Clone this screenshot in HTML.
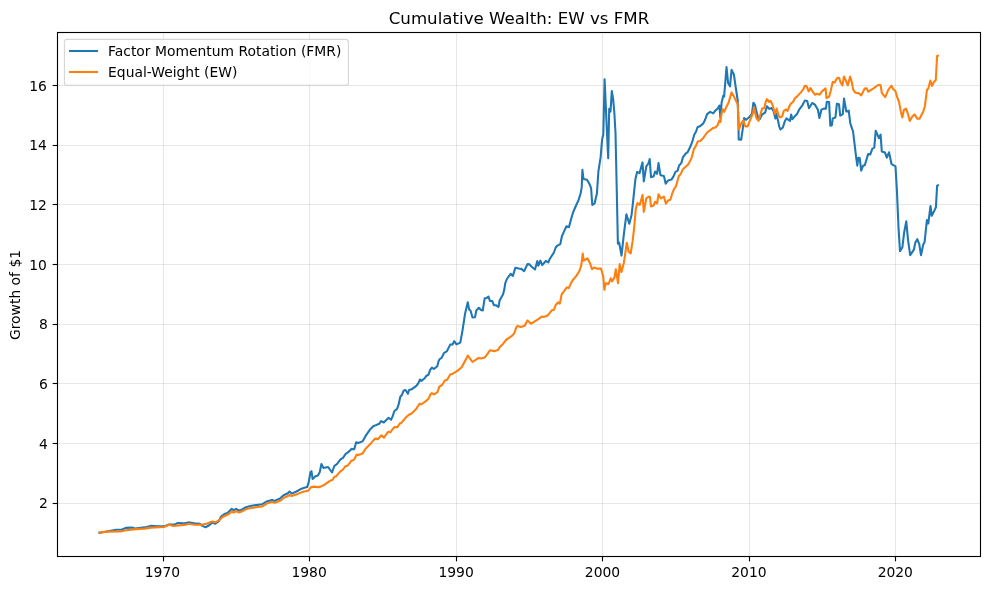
<!DOCTYPE html>
<html><head><meta charset="utf-8"><title>Cumulative Wealth: EW vs FMR</title>
<style>
html,body{margin:0;padding:0;background:#fff;}
body{width:989px;height:590px;overflow:hidden;}
svg{display:block;}
text{font-family:"DejaVu Sans","Liberation Sans",sans-serif;fill:#000;}
</style></head><body>
<svg width="989" height="590" viewBox="0 0 989 590">
<rect width="989" height="590" fill="#fff"/>

<g stroke="#b0b0b0" stroke-opacity="0.3" stroke-width="1.11" fill="none">
<line x1="163.5" y1="32.5" x2="163.5" y2="556.5"/>
<line x1="309.5" y1="32.5" x2="309.5" y2="556.5"/>
<line x1="456.5" y1="32.5" x2="456.5" y2="556.5"/>
<line x1="602.5" y1="32.5" x2="602.5" y2="556.5"/>
<line x1="749.5" y1="32.5" x2="749.5" y2="556.5"/>
<line x1="895.5" y1="32.5" x2="895.5" y2="556.5"/>
<line x1="57.5" y1="503.5" x2="980.5" y2="503.5"/>
<line x1="57.5" y1="443.5" x2="980.5" y2="443.5"/>
<line x1="57.5" y1="383.5" x2="980.5" y2="383.5"/>
<line x1="57.5" y1="324.5" x2="980.5" y2="324.5"/>
<line x1="57.5" y1="264.5" x2="980.5" y2="264.5"/>
<line x1="57.5" y1="204.5" x2="980.5" y2="204.5"/>
<line x1="57.5" y1="145.5" x2="980.5" y2="145.5"/>
<line x1="57.5" y1="85.5" x2="980.5" y2="85.5"/>
</g>
<path d="M99.5 532.7 L105.8 531.8 L116.1 529.8 L121.5 529.8 L125.8 527.9 L131.9 527.6 L134.9 528.6 L144.6 527.4 L150.7 525.9 L158.0 526.4 L164.0 526.4 L168.9 524.6 L175.0 524.6 L177.4 523.0 L183.4 523.4 L188.3 522.4 L194.4 523.4 L199.8 523.7 L202.4 525.9 L205.5 527.2 L209.2 525.3 L212.2 522.5 L215.3 523.7 L218.9 521.1 L220.8 516.8 L224.4 514.1 L227.5 513.1 L231.7 508.8 L233.6 510.1 L236.0 508.8 L239.1 510.7 L242.1 509.5 L245.2 507.6 L251.3 505.8 L262.3 504.2 L266.5 501.5 L272.0 500.0 L274.5 500.9 L280.0 498.5 L283.6 495.2 L287.9 493.2 L289.5 491.5 L291.8 493.6 L296.5 491.5 L300.7 489.1 L304.4 487.8 L307.2 487.1 L308.7 482.0 L310.5 472.2 L311.5 471.2 L312.6 478.9 L315.5 476.2 L317.9 475.6 L319.8 471.9 L321.4 464.0 L323.4 467.9 L328.1 467.0 L332.0 472.5 L334.4 465.8 L336.9 464.2 L340.5 459.3 L343.0 457.9 L345.4 454.2 L347.9 452.4 L351.5 448.9 L354.2 449.3 L356.2 442.3 L358.2 443.0 L362.5 441.4 L365.6 435.9 L369.8 429.8 L373.5 426.1 L375.0 425.6 L379.1 423.8 L381.1 421.1 L383.8 422.5 L388.6 417.8 L391.0 419.8 L392.6 416.4 L394.4 411.0 L397.1 408.9 L398.7 404.2 L400.3 396.7 L402.1 394.7 L403.7 390.4 L405.5 390.0 L407.9 393.8 L409.1 390.0 L411.6 389.3 L416.3 385.9 L418.4 383.2 L420.0 379.5 L421.3 380.9 L424.5 378.5 L426.5 375.7 L428.5 374.7 L430.3 369.6 L431.9 367.6 L433.9 369.0 L437.3 366.3 L438.7 360.8 L440.0 358.8 L441.6 357.9 L444.1 352.8 L446.8 351.4 L450.2 344.6 L452.5 344.4 L454.2 341.2 L456.5 344.4 L460.3 342.6 L462.4 331.1 L465.1 313.5 L467.8 302.3 L469.1 309.4 L470.5 310.5 L472.5 317.5 L475.0 317.3 L476.3 310.5 L478.9 307.8 L480.7 309.7 L482.7 310.5 L484.7 298.3 L486.8 297.9 L488.5 296.5 L489.9 301.0 L492.2 301.0 L493.9 305.1 L496.2 305.3 L498.5 307.0 L499.6 300.6 L501.4 297.2 L503.1 294.2 L504.4 289.1 L505.2 283.4 L506.9 279.0 L510.6 273.9 L512.9 275.9 L515.3 267.8 L518.7 268.5 L521.4 268.9 L524.1 271.2 L527.5 264.1 L529.6 264.4 L531.6 266.8 L535.0 269.5 L537.3 261.0 L538.4 265.7 L540.4 260.6 L542.2 265.1 L545.8 261.0 L548.3 262.4 L549.9 258.7 L553.9 252.5 L555.7 247.5 L557.3 245.7 L560.3 244.1 L561.9 236.2 L563.4 232.9 L566.4 226.3 L569.0 227.1 L571.0 219.5 L573.0 212.6 L575.6 206.5 L578.6 199.9 L580.6 193.5 L581.7 187.4 L582.4 169.9 L583.5 179.1 L587.0 179.8 L589.3 183.6 L591.1 188.2 L592.3 205.0 L594.6 203.4 L596.9 193.5 L598.4 171.4 L600.6 157.4 L602.1 139.6 L603.3 134.5 L604.6 79.2 L606.9 131.0 L608.2 158.2 L609.2 108.7 L610.5 111.6 L611.8 91.0 L613.1 98.9 L614.3 112.0 L615.5 132.8 L616.7 187.4 L617.9 243.7 L619.2 242.7 L621.5 255.6 L623.9 233.9 L626.4 214.4 L629.3 223.7 L631.5 215.3 L632.7 205.1 L635.4 179.3 L637.1 171.9 L639.5 173.2 L642.5 162.4 L643.8 181.4 L646.3 166.4 L648.3 163.7 L649.7 159.0 L651.0 177.3 L653.7 176.3 L655.1 171.5 L657.1 173.9 L658.5 163.1 L660.5 175.3 L663.9 175.9 L665.7 183.7 L668.2 180.4 L671.4 179.6 L673.4 176.6 L675.4 171.9 L677.5 170.9 L679.1 165.5 L681.3 163.1 L682.9 157.4 L685.6 153.6 L687.6 152.2 L690.3 146.8 L692.4 141.4 L694.2 134.8 L696.0 131.8 L697.5 127.2 L700.3 126.0 L703.3 123.4 L705.2 119.5 L707.1 114.2 L710.2 111.9 L713.2 113.4 L715.5 110.4 L717.8 108.5 L719.4 105.5 L720.4 118.0 L721.6 102.7 L723.2 95.9 L724.1 96.6 L725.5 79.8 L726.5 67.0 L728.1 82.9 L730.0 86.3 L731.6 69.9 L733.9 74.5 L735.4 85.2 L737.7 100.5 L738.4 121.1 L738.7 139.4 L741.2 139.7 L743.0 127.2 L744.1 118.0 L746.1 119.8 L749.1 117.3 L751.9 114.2 L753.4 102.7 L755.0 105.0 L756.2 110.3 L758.0 117.4 L759.7 119.2 L762.1 114.5 L765.1 112.7 L766.9 106.2 L769.2 108.9 L771.6 108.0 L773.7 111.5 L775.4 118.6 L776.4 113.9 L778.1 121.0 L779.3 126.9 L780.5 129.5 L782.9 127.5 L784.7 121.6 L786.4 118.4 L790.0 120.8 L791.2 114.5 L792.4 119.2 L794.7 116.3 L797.1 113.9 L799.1 109.7 L802.4 105.3 L804.8 100.6 L807.2 101.1 L809.0 108.2 L812.2 103.0 L814.9 104.6 L817.9 109.7 L819.4 118.0 L821.4 109.7 L823.8 108.6 L825.9 108.6 L826.8 101.8 L829.1 102.0 L830.3 125.8 L831.9 125.2 L832.7 118.4 L835.4 117.4 L836.9 103.8 L839.0 104.2 L840.2 115.7 L842.8 114.1 L844.0 98.5 L846.3 111.5 L848.7 110.6 L850.3 123.4 L852.3 129.3 L853.0 131.0 L854.4 142.6 L856.1 157.0 L857.3 165.6 L858.3 157.7 L859.7 158.1 L861.2 170.6 L863.1 165.6 L864.8 165.3 L868.1 154.1 L870.3 154.4 L872.4 148.6 L874.3 147.6 L875.7 130.7 L878.9 138.2 L880.6 134.6 L881.8 151.5 L885.0 152.6 L886.8 157.7 L889.0 152.3 L891.6 164.2 L895.5 166.3 L896.9 190.4 L898.6 229.4 L900.0 251.1 L902.4 247.2 L904.1 232.8 L906.3 221.3 L908.0 239.6 L910.2 255.2 L913.9 249.7 L915.3 242.6 L917.3 239.2 L919.3 244.3 L921.0 255.2 L923.2 244.7 L924.6 242.1 L926.9 220.1 L928.3 223.5 L930.5 206.0 L931.7 215.8 L933.9 211.6 L935.9 207.4 L937.1 185.7 L938.0 185.3" fill="none" stroke="#1f77b4" stroke-width="2.08" stroke-linejoin="round" stroke-linecap="square"/>
<path d="M99.5 532.5 L105.8 531.6 L120.3 531.5 L126.4 530.3 L136.1 529.1 L144.6 528.6 L150.7 527.6 L164.0 527.0 L168.9 524.8 L173.7 526.0 L185.9 524.6 L188.9 523.7 L194.4 524.8 L201.6 524.8 L207.3 523.5 L212.2 521.4 L215.3 522.3 L218.9 520.4 L222.6 517.0 L229.3 513.7 L232.0 511.3 L233.6 512.7 L236.0 511.3 L239.1 512.5 L242.7 511.0 L246.4 509.1 L253.7 507.6 L262.3 506.4 L267.2 503.3 L272.0 502.1 L275.1 502.7 L280.6 500.5 L284.2 497.6 L288.5 495.7 L289.7 494.8 L291.6 496.0 L297.7 493.9 L303.8 491.5 L308.1 490.8 L311.1 487.1 L314.2 486.6 L317.2 487.1 L320.0 486.9 L324.7 484.7 L329.5 481.1 L332.6 479.8 L334.4 476.8 L336.3 476.2 L339.9 471.9 L343.0 469.5 L345.4 466.2 L347.9 465.4 L351.5 460.7 L353.7 460.0 L354.6 458.8 L356.6 454.6 L358.2 455.0 L362.5 453.6 L365.6 448.7 L371.1 443.2 L374.7 438.9 L376.5 438.6 L377.8 439.3 L381.4 435.3 L383.9 437.7 L388.1 431.8 L390.6 432.2 L391.9 430.0 L394.6 427.0 L397.4 427.2 L400.1 423.2 L401.4 422.9 L405.5 417.8 L408.9 414.8 L411.3 413.7 L415.7 409.6 L419.7 403.5 L421.1 404.5 L425.8 401.2 L428.5 398.8 L430.6 394.0 L431.9 393.1 L433.9 394.4 L437.3 392.3 L439.4 386.6 L442.1 385.0 L444.8 380.5 L447.1 379.8 L450.2 374.4 L452.9 373.7 L457.7 370.6 L461.7 367.3 L467.8 355.7 L472.5 362.0 L478.6 357.9 L481.3 358.4 L484.7 357.5 L487.4 354.1 L489.9 350.3 L494.9 351.1 L498.3 349.8 L499.6 347.3 L503.0 343.9 L506.4 339.5 L509.1 337.8 L512.5 335.4 L514.3 333.1 L516.2 327.7 L517.5 325.9 L520.6 327.0 L524.7 325.7 L527.4 320.5 L531.1 323.6 L537.6 319.6 L541.7 316.6 L543.8 317.0 L547.6 315.6 L551.9 310.2 L553.9 309.8 L555.7 305.0 L558.0 302.3 L559.8 303.7 L561.7 294.2 L564.1 291.2 L566.8 287.4 L568.8 288.1 L570.9 283.4 L572.9 280.0 L576.3 275.9 L579.0 271.8 L581.0 266.4 L582.0 260.3 L582.7 253.5 L583.8 260.6 L587.4 258.3 L589.9 263.0 L592.0 269.2 L594.2 267.5 L596.8 268.6 L601.0 268.6 L603.2 276.3 L604.4 289.8 L605.6 283.4 L608.6 283.9 L610.7 278.3 L612.0 281.4 L614.6 277.1 L615.8 269.2 L618.0 283.1 L619.7 264.1 L621.4 272.0 L623.9 262.7 L626.8 242.7 L628.6 251.7 L630.7 253.4 L632.7 240.7 L634.4 225.4 L635.8 208.8 L637.5 203.1 L639.8 204.8 L642.5 194.9 L643.8 211.9 L646.3 198.3 L648.3 196.9 L649.9 196.7 L651.0 206.4 L653.7 205.4 L655.1 201.7 L657.1 203.5 L658.5 194.2 L660.9 198.3 L663.9 196.7 L665.9 203.7 L668.2 200.3 L670.4 199.7 L672.0 194.2 L674.1 188.8 L676.1 186.1 L678.8 175.9 L680.8 173.9 L682.9 169.2 L685.6 166.8 L688.3 164.4 L691.7 157.6 L694.0 148.8 L695.8 146.1 L697.8 141.4 L700.3 140.9 L703.3 137.9 L707.1 132.5 L713.2 127.9 L715.5 127.5 L717.8 124.9 L719.4 120.3 L720.4 121.8 L721.6 113.4 L722.9 109.2 L724.1 111.9 L726.2 107.3 L728.5 102.7 L731.6 92.4 L733.9 96.6 L737.7 104.3 L738.4 118.0 L739.0 129.5 L741.2 123.4 L743.3 120.3 L745.3 126.4 L747.6 126.4 L750.6 118.8 L752.9 113.4 L754.0 107.3 L755.5 114.2 L756.4 118.0 L758.6 120.8 L760.3 115.1 L762.1 108.6 L764.3 108.0 L765.7 102.0 L766.9 99.1 L769.2 102.0 L770.7 100.8 L772.8 105.6 L774.9 113.9 L776.7 108.6 L778.7 115.7 L780.1 117.4 L782.3 116.3 L783.8 110.9 L786.1 109.4 L787.6 110.9 L790.0 105.0 L791.2 103.2 L793.0 102.0 L794.7 98.5 L797.7 95.9 L801.3 91.9 L803.4 89.0 L804.8 85.7 L806.6 86.0 L808.6 91.4 L810.5 88.0 L812.5 91.4 L814.9 94.7 L817.3 93.7 L819.6 94.7 L822.0 91.4 L825.6 88.4 L826.5 98.2 L829.1 96.7 L830.9 90.2 L832.7 81.9 L834.7 82.5 L836.9 78.3 L839.0 77.7 L840.6 82.5 L842.4 85.4 L844.0 76.5 L845.7 80.1 L847.8 85.4 L850.1 76.5 L851.7 81.9 L853.2 89.6 L855.0 92.3 L855.8 92.7 L858.6 93.1 L861.3 95.4 L864.6 88.6 L866.7 88.4 L868.3 91.7 L873.5 88.4 L878.2 85.0 L880.5 85.0 L881.9 93.1 L885.2 97.2 L888.4 89.7 L891.5 85.7 L893.1 89.0 L895.4 91.1 L897.2 97.2 L899.2 102.6 L900.8 111.4 L902.3 117.5 L903.9 110.0 L906.0 108.7 L908.0 114.1 L909.8 120.9 L912.1 116.8 L914.4 114.4 L917.5 118.8 L919.5 118.8 L923.3 111.4 L924.9 106.0 L927.0 89.7 L928.3 88.4 L930.4 80.5 L932.0 85.9 L933.8 82.3 L935.8 80.0 L937.1 56.1 L938.0 55.8" fill="none" stroke="#ff7f0e" stroke-width="2.08" stroke-linejoin="round" stroke-linecap="square"/>
<rect x="57.5" y="32.5" width="923.0" height="524.0" fill="none" stroke="#000" stroke-width="1.11"/>
<g stroke="#000" stroke-width="1.11">
<line x1="163.5" y1="556.5" x2="163.5" y2="561.36"/>
<line x1="309.5" y1="556.5" x2="309.5" y2="561.36"/>
<line x1="456.5" y1="556.5" x2="456.5" y2="561.36"/>
<line x1="602.5" y1="556.5" x2="602.5" y2="561.36"/>
<line x1="749.5" y1="556.5" x2="749.5" y2="561.36"/>
<line x1="895.5" y1="556.5" x2="895.5" y2="561.36"/>
<line x1="57.5" y1="503.5" x2="52.64" y2="503.5"/>
<line x1="57.5" y1="443.5" x2="52.64" y2="443.5"/>
<line x1="57.5" y1="383.5" x2="52.64" y2="383.5"/>
<line x1="57.5" y1="324.5" x2="52.64" y2="324.5"/>
<line x1="57.5" y1="264.5" x2="52.64" y2="264.5"/>
<line x1="57.5" y1="204.5" x2="52.64" y2="204.5"/>
<line x1="57.5" y1="145.5" x2="52.64" y2="145.5"/>
<line x1="57.5" y1="85.5" x2="52.64" y2="85.5"/>
</g>
<g font-size="13.89px">
<text x="162.4" y="576.6" text-anchor="middle">1970</text>
<text x="309.1" y="576.6" text-anchor="middle">1980</text>
<text x="456.1" y="576.6" text-anchor="middle">1990</text>
<text x="602.5" y="576.6" text-anchor="middle">2000</text>
<text x="748.9" y="576.6" text-anchor="middle">2010</text>
<text x="895.3" y="576.6" text-anchor="middle">2020</text>
<text x="47.8" y="508.2" text-anchor="end">2</text>
<text x="47.8" y="448.5" text-anchor="end">4</text>
<text x="47.8" y="388.8" text-anchor="end">6</text>
<text x="47.8" y="329.1" text-anchor="end">8</text>
<text x="46.8" y="270.3" text-anchor="end">10</text>
<text x="46.8" y="210.1" text-anchor="end">12</text>
<text x="46.8" y="150.4" text-anchor="end">14</text>
<text x="46.8" y="91.2" text-anchor="end">16</text>
</g>
<text x="519" y="23.6" font-size="16.67px" text-anchor="middle">Cumulative Wealth: EW vs FMR</text>
<text transform="translate(20.2 295) rotate(-90)" font-size="13.89px" text-anchor="middle">Growth of $1</text>
<rect x="64.4" y="39.4" width="284" height="46" rx="2.8" ry="2.8" fill="#fff" fill-opacity="0.8" stroke="#ccc" stroke-opacity="0.8" stroke-width="1.11"/>
<line x1="69" y1="51" x2="98" y2="51" stroke="#1f77b4" stroke-width="2.08"/>
<line x1="69" y1="72" x2="98" y2="72" stroke="#ff7f0e" stroke-width="2.08"/>
<g font-size="13.89px"><text x="108.1" y="55.9">Factor Momentum Rotation (FMR)</text><text x="108.1" y="76.9">Equal-Weight (EW)</text></g>
</svg></body></html>
